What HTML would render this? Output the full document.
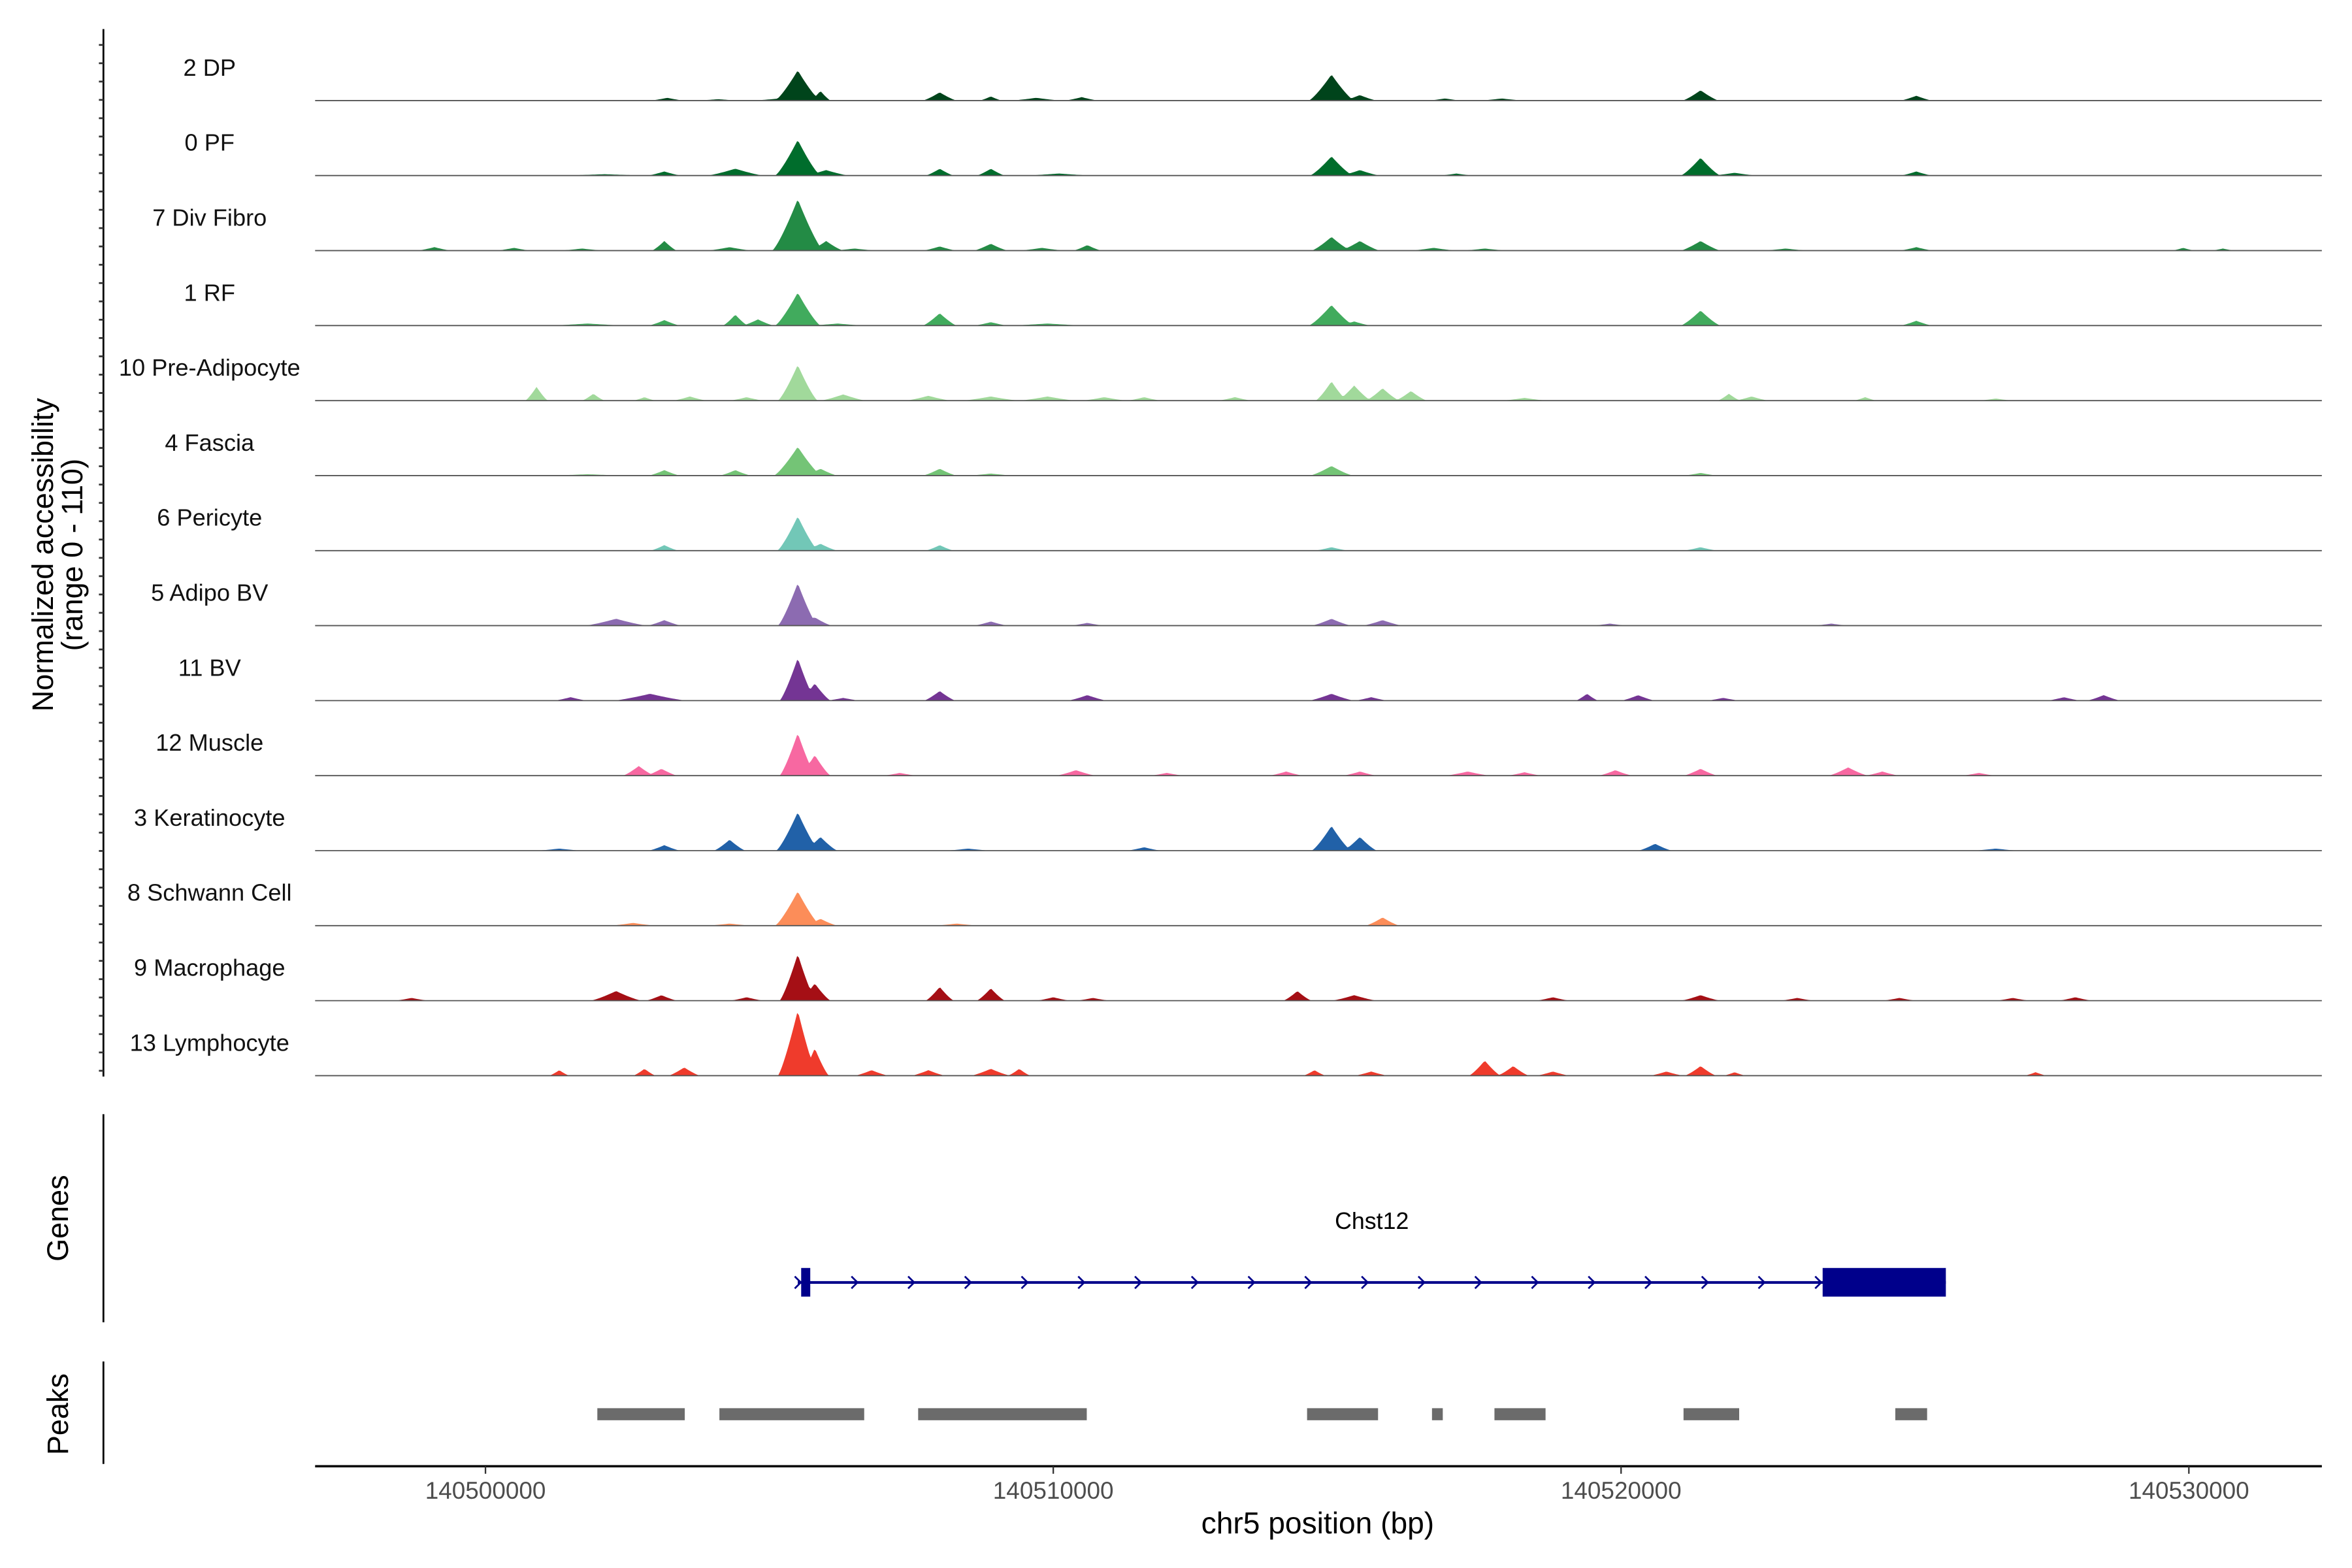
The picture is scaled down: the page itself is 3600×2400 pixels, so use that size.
<!DOCTYPE html>
<html><head><meta charset="utf-8"><style>
html,body{margin:0;padding:0;background:#fff;}
svg{display:block;font-family:"Liberation Sans",Arial,sans-serif;}
</style></head><body>
<svg id="chart" width="3600" height="2400" viewBox="0 0 1560 1040" xmlns="http://www.w3.org/2000/svg">
<g id="tracks"></g>
<g id="axes"></g>
<g id="genes"></g>
<g id="peaks"></g>
</svg>
<script>
// ---- data ----
const trackNames = ["2 DP","0 PF","7 Div Fibro","1 RF","10 Pre-Adipocyte","4 Fascia","6 Pericyte","5 Adipo BV","11 BV","12 Muscle","3 Keratinocyte","8 Schwann Cell","9 Macrophage","13 Lymphocyte"];
const trackColors = ["#00441b","#006d2c","#238b45","#41ab5d","#a1d99b","#74c476","#72c7b7","#8c6bb1","#743594","#f768a1","#2161a8","#fc8d59","#a50f15","#ef3b2c"];
// peaks per track: [position kb offset from 140500000, height (0-110), half-width kb]
const trackPeaks = [
 [[5.5,44,0.4],[5.9,14,0.18],[3.2,4,0.3],[4.1,2,0.4],[5.3,4,0.6],[8.0,12,0.3],[8.9,6,0.2],[9.7,4,0.45],[10.5,5,0.3],[14.9,38,0.4],[15.4,8,0.3],[16.9,3,0.3],[17.9,3,0.4],[21.4,15,0.32],[25.2,7,0.28]],
 [[5.5,52,0.4],[6.0,8,0.4],[4.4,10,0.5],[3.15,6,0.3],[2.1,2,0.8],[8.0,10,0.25],[8.9,10,0.25],[10.1,3,0.6],[14.9,28,0.38],[15.4,8,0.35],[17.1,3,0.3],[21.4,26,0.35],[22.0,4,0.4],[25.2,6,0.28]],
 [[5.5,75,0.45],[6.0,14,0.3],[-0.9,5,0.3],[0.5,4,0.3],[1.7,3,0.4],[3.15,14,0.22],[4.3,5,0.4],[6.5,3,0.4],[8.0,6,0.3],[8.9,10,0.3],[9.8,4,0.4],[10.6,8,0.25],[14.9,20,0.35],[15.4,14,0.35],[16.7,4,0.4],[17.6,3,0.4],[21.4,14,0.35],[22.9,3,0.4],[25.2,5,0.3],[29.9,4,0.2],[30.6,3,0.2]],
 [[5.5,48,0.4],[4.4,16,0.22],[4.8,9,0.28],[3.15,8,0.28],[1.8,3,0.7],[6.2,3,0.5],[8.0,18,0.3],[8.9,5,0.3],[9.9,3,0.7],[14.9,30,0.4],[15.3,6,0.3],[21.4,22,0.35],[25.2,7,0.28]],
 [[5.5,52,0.35],[0.9,20,0.2],[1.9,10,0.2],[2.8,5,0.2],[3.6,6,0.3],[4.6,5,0.3],[6.3,9,0.4],[7.8,7,0.4],[8.9,6,0.5],[9.9,6,0.5],[10.9,5,0.4],[11.6,5,0.3],[13.2,5,0.3],[14.9,28,0.28],[15.3,22,0.3],[15.8,18,0.3],[16.3,14,0.28],[18.3,4,0.4],[21.9,10,0.2],[22.3,6,0.3],[24.3,5,0.2],[26.6,3,0.3]],
 [[5.5,42,0.42],[5.9,10,0.3],[3.15,8,0.28],[4.4,8,0.28],[1.8,2,0.7],[8.0,10,0.3],[8.9,3,0.4],[14.9,14,0.38],[21.4,4,0.3]],
 [[5.5,50,0.36],[5.9,10,0.3],[3.15,8,0.25],[8.0,8,0.25],[14.9,5,0.3],[21.4,5,0.3]],
 [[5.5,62,0.35],[5.8,12,0.3],[2.3,10,0.55],[3.15,8,0.3],[8.9,6,0.3],[10.6,4,0.3],[14.9,10,0.35],[15.8,8,0.35],[19.8,3,0.3],[23.7,3,0.3]],
 [[5.5,62,0.32],[5.8,25,0.28],[1.5,5,0.3],[2.9,10,0.65],[6.3,4,0.3],[8.0,14,0.28],[10.6,8,0.35],[14.9,10,0.4],[15.6,5,0.3],[19.4,10,0.2],[20.3,8,0.3],[21.8,4,0.3],[27.8,5,0.3],[28.5,8,0.3]],
 [[5.5,62,0.32],[5.8,30,0.28],[2.7,14,0.28],[3.1,10,0.28],[7.3,4,0.3],[10.4,8,0.35],[12.0,4,0.3],[14.1,6,0.3],[15.4,6,0.3],[17.3,6,0.4],[18.3,5,0.3],[19.9,8,0.3],[21.4,10,0.3],[24.0,12,0.35],[24.6,6,0.3],[26.3,4,0.3]],
 [[5.5,56,0.38],[5.9,20,0.3],[4.3,16,0.28],[3.15,8,0.28],[1.3,3,0.4],[8.5,3,0.4],[11.6,5,0.3],[14.9,36,0.35],[15.4,20,0.3],[20.6,10,0.3],[26.6,3,0.4]],
 [[5.5,50,0.4],[5.9,10,0.3],[2.6,4,0.4],[4.3,3,0.4],[15.8,12,0.3],[8.3,3,0.4]],
 [[5.5,68,0.32],[5.8,25,0.28],[-1.3,4,0.3],[2.3,14,0.45],[3.1,8,0.28],[4.6,5,0.3],[8.0,20,0.25],[8.9,18,0.25],[10.0,5,0.3],[10.7,4,0.3],[14.3,14,0.25],[15.3,8,0.4],[18.8,5,0.3],[21.4,8,0.35],[23.1,4,0.3],[24.9,4,0.3],[26.9,4,0.3],[28.0,5,0.3]],
 [[5.5,95,0.35],[5.8,40,0.25],[1.3,8,0.18],[2.8,10,0.2],[3.5,12,0.28],[6.8,8,0.3],[7.8,8,0.3],[8.9,10,0.35],[9.4,10,0.2],[14.6,8,0.2],[15.6,6,0.3],[17.6,22,0.28],[18.1,14,0.28],[18.8,6,0.3],[20.8,6,0.3],[21.4,14,0.28],[22.0,5,0.2],[27.3,5,0.2]]
];
const xTickValues = [140500000,140510000,140520000,140530000];
const xTickLabels = ["140500000","140510000","140520000","140530000"];
const geneName = "Chst12";
const geneStart = 5.5, geneEnd = 25.72;
const geneExons = [[5.56,5.72],[23.55,25.72]];
const peakRegions = [[1.97,3.51],[4.12,6.67],[7.62,10.59],[14.47,15.72],[16.67,16.86],[17.77,18.67],[21.1,22.08],[24.83,25.39]];

// ---- axis functions ----
const NS="http://www.w3.org/2000/svg";
const pxPerKb=37.66, x0=322, plotL=209, plotR=1540;
function xScale(kb){return x0+kb*pxPerKb;}
function xBp(bp){return xScale((bp-140500000)/1000);}
const xMinKb=(plotL-x0)/pxPerKb, xMaxKb=(plotR-x0)/pxPerKb;
const yMax=110, trackH=50;
function trackBase(i){return 66.7+i*49.75;}
function yScale(i,v){return trackBase(i)-v/yMax*trackH;}
function mk(tag,attrs,parent){const e=document.createElementNS(NS,tag);for(const k in attrs)e.setAttribute(k,attrs[k]);parent.appendChild(e);return e;}

const tg=document.getElementById('tracks');
trackNames.forEach((name,i)=>{
  const g=mk('g',{},tg);
  
  
  const lab=mk('text',{x:139,y:trackBase(i)-16.5,'text-anchor':'middle','font-size':15.7,fill:'#111'},g);
  lab.textContent=name;
  
  
  const pk=trackPeaks[i];
  let d='M'+plotL+','+trackBase(i);
  for(let kb=xMinKb;kb<=xMaxKb;kb+=0.03){
    let v=0;
    for(const p of pk){const t=Math.abs(kb-p[0])/p[2];if(t<1){const s=p[1]*Math.pow(1-t,1.25);if(s>v)v=s;}}
    d+=' L'+xScale(kb).toFixed(2)+','+yScale(i,v).toFixed(2);
  }
  d+=' L'+plotR+','+trackBase(i)+' Z';
  const area=mk('path',{d:d,fill:trackColors[i],stroke:'none'},g);
  
  
  const bl=mk('line',{x1:plotL,x2:plotR,y1:trackBase(i),y2:trackBase(i),stroke:'#555','stroke-width':0.8},g);
  
  
});

const ax=document.getElementById('axes');
const yl=mk('line',{x1:68.6,x2:68.6,y1:19.3,y2:714,stroke:'#000','stroke-width':1.2},ax);


for(let y=29.8;y<=711;y+=12.15){mk('line',{x1:65.6,x2:68.6,y1:y,y2:y,stroke:'#333','stroke-width':1.2},ax);}
const yt=mk('text',{transform:'translate(35,368) rotate(-90)','text-anchor':'middle','font-size':19.5,fill:'#000'},ax);


yt.innerHTML='<tspan x="0" dy="0">Normalized accessibility</tspan><tspan x="0" dy="19.5">(range 0 - 110)</tspan>';
const xl=mk('line',{x1:plotL,x2:plotR,y1:972.5,y2:972.5,stroke:'#000','stroke-width':1.5},ax);


xTickValues.forEach((v,k)=>{
  const x=xBp(v);
  mk('line',{x1:x,x2:x,y1:972.5,y2:977.5,stroke:'#333','stroke-width':1},ax);
  const t=mk('text',{x:x,y:994,'text-anchor':'middle','font-size':16,fill:'#4d4d4d'},ax);
  t.textContent=xTickLabels[k];
  
  
});
const xt=mk('text',{x:874,y:1017,'text-anchor':'middle','font-size':20,fill:'#000'},ax);
xt.textContent='chr5 position (bp)';



const gg=document.getElementById('genes');
mk('line',{x1:68.6,x2:68.6,y1:739,y2:877,stroke:'#000','stroke-width':1.2},gg);
const gt=mk('text',{transform:'translate(45,808) rotate(-90)','text-anchor':'middle','font-size':19.5},gg);
gt.textContent='Genes';


const gl=mk('text',{x:(xScale(geneStart)+xScale(geneEnd))/2,y:815,'text-anchor':'middle','font-size':15.5},gg);
gl.textContent=geneName;


const gline=mk('line',{x1:xScale(geneStart),x2:xScale(geneEnd),y1:850.6,y2:850.6,stroke:'#00008b','stroke-width':1.8},gg);


for(let x=xScale(geneStart);x<xScale(geneExons[1][0]);x+=37.6){
  mk('path',{d:`M${x-2},846.6 L${x+2},850.6 L${x-2},854.6`,fill:'none',stroke:'#00008b','stroke-width':1.2},gg);
}
geneExons.forEach(e=>{
  const r=mk('rect',{x:xScale(e[0]),y:841,width:Math.max(xScale(e[1])-xScale(e[0]),5),height:19,fill:'#00008b'},gg);
  
  
});

const pg=document.getElementById('peaks');
mk('line',{x1:68.6,x2:68.6,y1:903,y2:971,stroke:'#000','stroke-width':1.2},pg);
const pt=mk('text',{transform:'translate(45,938) rotate(-90)','text-anchor':'middle','font-size':19.5},pg);
pt.textContent='Peaks';


peakRegions.forEach(p=>{
  const r=mk('rect',{x:xScale(p[0]),y:934,width:xScale(p[1])-xScale(p[0]),height:8,fill:'#6b6b6b'},pg);
  
  
});
</script>
</body></html>
